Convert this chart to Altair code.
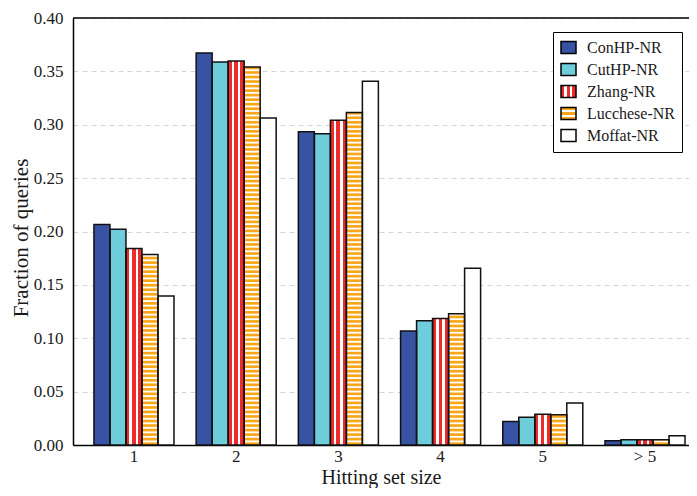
import altair as alt
import pandas as pd

groups = ["1", "2", "3", "4", "5", "> 5"]
series = ["ConHP-NR", "CutHP-NR", "Zhang-NR", "Lucchese-NR", "Moffat-NR"]
conhp = [0.2065, 0.3671, 0.2934, 0.1069, 0.0221, 0.0040]
cuthp = [0.2021, 0.3588, 0.2915, 0.1164, 0.0261, 0.0049]
zhang = [0.1840, 0.3597, 0.3041, 0.1186, 0.0289, 0.0049]
lucchese = [0.1785, 0.3542, 0.3115, 0.1229, 0.0283, 0.0049]
moffat = [0.1395, 0.3063, 0.3407, 0.1656, 0.0394, 0.0086]
colors = ["#3953a4", "#6dcddb", "#ee2b2b", "#faa61a", "#ffffff"]
y_ticks = [0.0, 0.05, 0.10, 0.15, 0.20, 0.25, 0.30, 0.35, 0.40]

RED = colors[2]
ORANGE = colors[3]
FONT = "Liberation Serif"
TXT = "#1a1a1a"

rows = []
for s, vals in zip(series, [conhp, cuthp, zhang, lucchese, moffat]):
    for g, v in zip(groups, vals):
        rows.append({"group": g, "series": s, "value": v})
df = pd.DataFrame(rows)

# horizontal hatch for the Lucchese bars (decoration only)
period = 0.00424
white_h = 0.0017
stripe_rows = []
for g, v in zip(groups, lucchese):
    k = 0
    while True:
        y0 = k * period + (period - white_h)
        if y0 >= v:
            break
        stripe_rows.append({"group": g, "series": "Lucchese-NR", "y0": y0, "y1": min(y0 + white_h, v)})
        k += 1
stripes = pd.DataFrame(stripe_rows)


def grad_expr(seq, vertical):
    st = []
    for (a, b, c) in seq:
        st.append("{offset: %g, color: '%s'}" % (a, c))
        st.append("{offset: %g, color: '%s'}" % (b, c))
    if vertical:
        xy = "x1: 0, y1: 0, x2: 0, y2: 1"
    else:
        xy = "x1: 0, y1: 0, x2: 1, y2: 0"
    return {"expr": "{gradient: 'linear', %s, stops: [%s]}" % (xy, ", ".join(st))}


grad_zhang = grad_expr([(0, 0.22, RED), (0.22, 0.38, "#ffffff"), (0.38, 0.6, RED),
                        (0.6, 0.76, "#ffffff"), (0.76, 1.0, RED)], False)
grad_luc = grad_expr([(0, 0.22, ORANGE), (0.22, 0.4, "#ffffff"), (0.4, 0.62, ORANGE),
                      (0.62, 0.8, "#ffffff"), (0.8, 1.0, ORANGE)], True)
color_range = [colors[0], colors[1], grad_zhang, grad_luc, colors[4]]

xscale = alt.Scale(paddingInner=0.217, paddingOuter=0.122, align=0.84)
yscale = alt.Scale(domain=[0, 0.4], nice=False, zero=True)
xaxis = alt.Axis(title="Hitting set size", labelAngle=0, ticks=False, grid=False,
                 domainColor="black", domainWidth=1.5, labelFont=FONT, labelFontSize=17,
                 labelColor=TXT, titleFont=FONT, titleFontSize=20, titleFontWeight="normal",
                 titleColor=TXT, labelPadding=3.5, titleY=38.5, titleBaseline="alphabetic")
yaxis = alt.Axis(title="Fraction of queries", values=y_ticks, format=".2f", ticks=False,
                 grid=True, gridDash=[5, 4], gridColor="#d5d5d5", gridWidth=1.1,
                 domainColor="black", domainWidth=1.5, labelFont=FONT, labelFontSize=17,
                 labelColor=TXT, titleFont=FONT, titleFontSize=21, titleFontWeight="normal",
                 titleColor=TXT, labelPadding=10, titleX=-46, titleY=219.5,
                 titleAngle=270, titleBaseline="alphabetic", titleAlign="center")

x_enc = alt.X("group:N", sort=groups, scale=xscale, axis=xaxis)
xo_enc = alt.XOffset("series:N", sort=series,
                     scale=alt.Scale(domain=series, paddingInner=0, paddingOuter=0))

legend = alt.Legend(
    title=None, orient="none", legendX=480, legendY=14, padding=7,
    strokeColor="black", fillColor="white", cornerRadius=0,
    labelFont=FONT, labelFontSize=16, labelColor=TXT, labelOffset=10,
    symbolType="M-1,-0.8H1V0.8H-1Z", symbolSize=225, symbolStrokeColor="black",
    symbolStrokeWidth=1.5, symbolOpacity=1, rowPadding=3,
)

base = alt.Chart(df)

bars = base.mark_bar(strokeWidth=0, opacity=1).encode(
    x=x_enc, xOffset=xo_enc,
    y=alt.Y("value:Q", scale=yscale, axis=yaxis),
    color=alt.Color("series:N", sort=series, scale=alt.Scale(domain=series, range=color_range),
                    legend=legend),
)

luc_plain = base.transform_filter(alt.datum.series == "Lucchese-NR").mark_bar(
    fill=ORANGE, strokeWidth=0
).encode(x=x_enc, xOffset=xo_enc, y=alt.Y("value:Q", scale=yscale, axis=yaxis))

stripe_layer = alt.Chart(stripes).mark_rect(fill="#ffffff", strokeWidth=0).encode(
    x=x_enc, xOffset=xo_enc,
    y=alt.Y("y0:Q", scale=yscale, axis=yaxis), y2="y1:Q",
)

outline = base.mark_bar(fill="transparent", stroke="#111111", strokeWidth=1.5).encode(
    x=x_enc, xOffset=xo_enc, y=alt.Y("value:Q", scale=yscale, axis=yaxis)
)

top_rule = alt.Chart(pd.DataFrame({"v": [0.4]})).mark_rule(color="black", strokeWidth=1.5).encode(
    y=alt.Y("v:Q", scale=yscale, axis=yaxis)
)

chart = alt.layer(bars, luc_plain, stripe_layer, outline, top_rule).properties(
    width=616, height=427,
    padding={"left": 65, "top": 10, "right": 0, "bottom": 43},
    autosize=alt.AutoSizeParams(type="none"),
).configure_view(strokeWidth=0)

chart.save("out.html", embed_options={"renderer": "svg", "actions": False})
